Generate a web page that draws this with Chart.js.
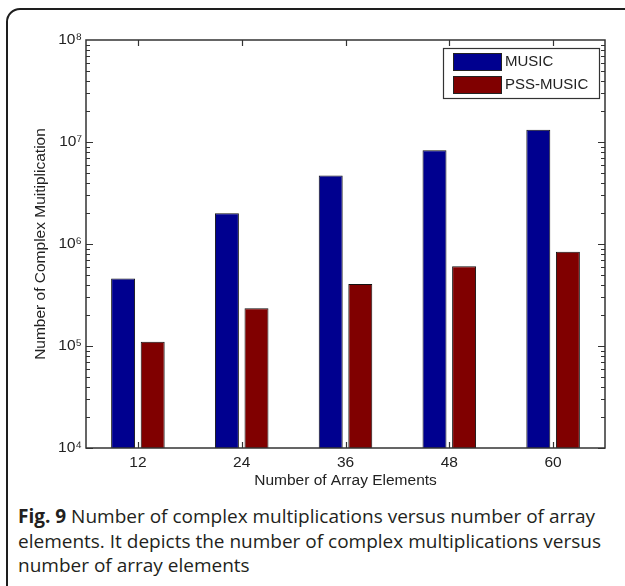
<!DOCTYPE html>
<html>
<head>
<meta charset="utf-8">
<script src="https://cdn.jsdelivr.net/npm/chart.js@4.4.1/dist/chart.umd.min.js"></script>
<style>
  body { margin: 0; background: #fff; }
  #wrap { position: relative; width: 625px; height: 586px; overflow: hidden; }
  #frame { position: absolute; left: 6px; top: 8px; width: 660px; height: 640px;
           border: 2px solid #1e1e1e; border-radius: 14px; box-sizing: border-box; }
  #chartBox { position: absolute; left: 0; top: 0; width: 625px; height: 500px; }
  #caption { position: absolute; left: 18px; top: 504px; width: 600px;
             font-family: "Open Sans", sans-serif; font-size: 19px; line-height: 24.5px;
             color: #231f20; white-space: nowrap; }
</style>
</head>
<body>
<div id="wrap">
  <div id="frame"></div>
  <div id="chartBox"><canvas id="myChart" width="625" height="500"></canvas></div>
  <div id="caption"><b>Fig. 9</b> Number of complex multiplications versus number of array<br>elements. It depicts the number of complex multiplications versus<br>number of array elements</div>
</div>
<script>
const labels = ['12', '24', '36', '48', '60'];
const musicValues = [4.6e5, 2.0e6, 4.7e6, 8.3e6, 1.32e7];
const pssValues = [1.1e5, 2.35e5, 4.05e5, 6.05e5, 8.4e5];
const yTicks = [1e4, 1e5, 1e6, 1e7, 1e8];
const supers = {'4': '⁴', '5': '⁵', '6': '⁶', '7': '⁷', '8': '⁸'};

const axisFont = { family: 'Liberation Sans, Arial, sans-serif', size: 15.5 };

// box around the plot + inward ticks, matlab style
const boxTicks = {
    id: 'boxTicks',
    afterDatasetsDraw(chart) {
        const ctx = chart.ctx;
        const a = chart.chartArea;
        const x = chart.scales.x;
        const y = chart.scales.y;
        ctx.save();
        ctx.strokeStyle = '#333';
        ctx.lineWidth = 1.2;
        ctx.beginPath();
        for (let d = 4; d < 8; d++) {
            for (let k = 1; k < 10; k++) {
                const p = Math.round(y.getPixelForValue(k * Math.pow(10, d))) + 0.5;
                const len = k == 1 ? 7 : 4;
                ctx.moveTo(a.left, p); ctx.lineTo(a.left + len, p);
                ctx.moveTo(a.right, p); ctx.lineTo(a.right - len, p);
            }
        }
        for (let i = 0; i < labels.length; i++) {
            const p = Math.round(x.getPixelForValue(i)) + 0.5;
            ctx.moveTo(p, a.bottom); ctx.lineTo(p, a.bottom - 6);
            ctx.moveTo(p, a.top); ctx.lineTo(p, a.top + 6);
        }
        ctx.stroke();
        ctx.lineWidth = 1.5;
        ctx.strokeRect(a.left, a.top, a.right - a.left, a.bottom - a.top);
        ctx.restore();
    },
    afterDraw(chart) {
        const ctx = chart.ctx;
        const a = chart.chartArea;
        const bx = a.right - 162, by = a.top + 8, bw = 156, bh = 50;
        ctx.save();
        ctx.fillStyle = '#fff';
        ctx.fillRect(bx, by, bw, bh);
        ctx.strokeStyle = '#333';
        ctx.lineWidth = 1.2;
        ctx.strokeRect(bx + 0.5, by + 0.5, bw, bh);
        ctx.font = '15px Liberation Sans, Arial, sans-serif';
        ctx.textBaseline = 'middle';
        chart.data.datasets.forEach((ds, i) => {
            const sy = by + 5 + i * 23;
            ctx.fillStyle = ds.backgroundColor;
            ctx.fillRect(bx + 10, sy, 48, 17);
            ctx.strokeStyle = '#222';
            ctx.lineWidth = 1;
            ctx.strokeRect(bx + 10.5, sy + 0.5, 48, 17);
            ctx.fillStyle = '#222';
            ctx.fillText(ds.label, bx + 62, sy + 9);
        });
        ctx.restore();
    }
};

new Chart(document.getElementById('myChart'), {
    type: 'bar',
    data: {
        labels: labels,
        datasets: [{
            label: 'MUSIC',
            data: musicValues,
            backgroundColor: '#00008f',
            borderColor: '#111',
            borderWidth: 1,
            categoryPercentage: 0.57,
            barPercentage: 0.81
        }, {
            label: 'PSS-MUSIC',
            data: pssValues,
            backgroundColor: '#800000',
            borderColor: '#111',
            borderWidth: 1,
            categoryPercentage: 0.57,
            barPercentage: 0.81
        }]
    },
    options: {
        responsive: false,
        animation: false,
        layout: { padding: { top: 40, right: 20, left: 0, bottom: 0 } },
        plugins: { legend: { display: false }, tooltip: { enabled: false } },
        scales: {
            x: {
                grid: { display: false, drawTicks: false },
                border: { display: false },
                ticks: { color: '#222', font: axisFont, padding: 5 },
                title: { display: true, text: 'Number of Array Elements', color: '#222',
                         font: axisFont, padding: { top: 0, bottom: 10 } },
                afterFit(scale) { scale.height = 52; }
            },
            y: {
                type: 'logarithmic',
                min: 1e4,
                max: 1e8,
                grid: { display: false, drawTicks: false },
                border: { display: false },
                afterBuildTicks(scale) { scale.ticks = yTicks.map(v => ({ value: v })); },
                ticks: {
                    color: '#222', font: axisFont, padding: 4,
                    callback: v => '10' + supers[String(Math.round(Math.log10(v)))]
                },
                title: { display: true, text: 'Number of Complex Muitiplication', color: '#222',
                         font: axisFont, padding: { top: 31, bottom: 0 } },
                afterFit(scale) { scale.width = 86; }
            }
        }
    },
    plugins: [boxTicks]
});
</script>
</body>
</html>
